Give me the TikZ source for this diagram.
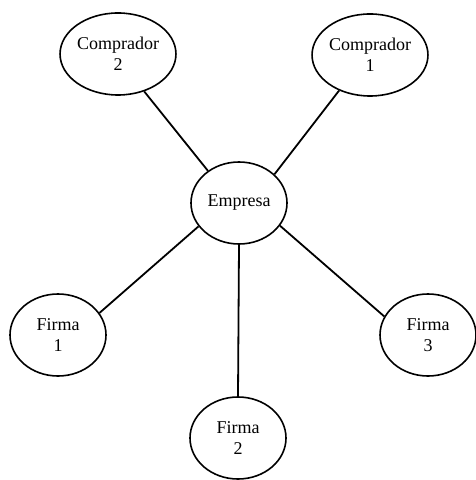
\documentclass[tikz,border=0pt]{standalone}
\usepackage{fontspec}
\setmainfont{Liberation Serif}
\usetikzlibrary{shapes.geometric}

\tikzset{
  actor/.style={draw, ellipse, line width=0.8pt, minimum width=48pt, minimum height=41pt,
    inner sep=0pt, align=center, font=\fontsize{9}{10.5}\selectfont},
  link/.style={line width=0.9pt}
}

\begin{document}
\begin{tikzpicture}[x=0.5pt,y=-0.5pt]
\useasboundingbox (0,0) rectangle (475,480);

% buyers
\node[actor] (c2) at (118,54) {Comprador\\2};
\node[actor] (c1) at (370,55) {Comprador\\1};
% centre
\node[actor] (emp) at (239,203) {Empresa};
% firms
\node[actor] (f1) at (58,335) {Firma\\1};
\node[actor] (f2) at (238,438) {Firma\\2};
\node[actor] (f3) at (428,335) {Firma\\3};

\draw[link] (emp.134) -- (c2.305);
\draw[link] (emp.39) -- (c1.229);
\draw[link] (emp.210) -- (f1.28);
\draw[link] (emp.331) -- (f3.157);
\draw[link] (emp.south) -- (f2.north);
\end{tikzpicture}
\end{document}
